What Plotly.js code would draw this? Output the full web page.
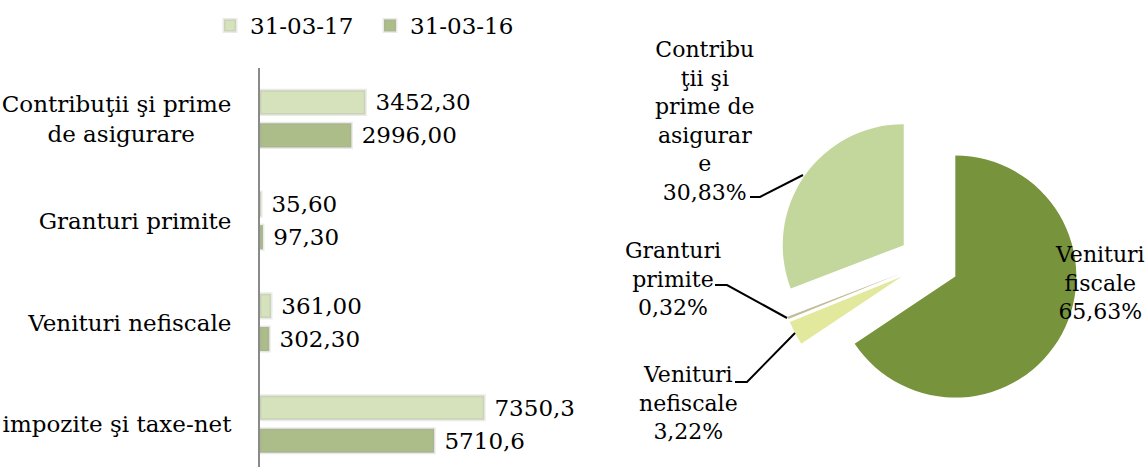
<!DOCTYPE html>
<html>
<head>
<meta charset="utf-8">
<script src="https://cdn.plot.ly/plotly-3.0.1.min.js"></script>
<style>
  html, body { margin: 0; padding: 0; background: #ffffff; }
  #chart { width: 1146px; height: 467px; }
</style>
</head>
<body>
<div id="chart"></div>
<script>
// ---- Data ----
var categories = ['Contribuţii şi prime<br>de asigurare\u00a0\u00a0\u00a0\u00a0\u00a0', 'Granturi primite', 'Venituri nefiscale', 'impozite şi taxe-net'];
var seriesNames = ['31-03-17', '31-03-16'];
var values2017 = [3452.30, 35.60, 361.00, 7350.3];
var values2016 = [2996.00, 97.30, 302.30, 5710.6];
var labels2017 = ['3452,30', '35,60', '361,00', '7350,3'];
var labels2016 = ['2996,00', '97,30', '302,30', '5710,6'];

// Pie (structure of 31-03-17), clockwise from 12 o'clock
var pieLabels = ['Venituri<br>fiscale', 'Venituri<br>nefiscale', 'Granturi<br>primite', 'Contribu<br>ţii şi<br>prime de<br>asigurar<br>e'];
var pieValues = [7350.3, 361.00, 35.60, 3452.30];

// ---- Helpers (page px -> paper) ----
var W = 1146, H = 467;
function px(x) { return x / W; }
function py(y) { return 1 - y / H; }

var FONT = 'DejaVu Serif, Liberation Serif, serif';
var colLight = '#d6e2bb';
var colDark = '#acbd8a';
var pieColors = ['#77933c', '#e2e99d', '#c4bb98', '#c3d69b'];

function nb(arr) { return arr.map(function (s) { return '\u00a0' + s; }); }

var traces = [
  {
    type: 'bar', orientation: 'h', name: seriesNames[0],
    y: categories, x: values2017, text: nb(labels2017),
    textposition: 'outside', cliponaxis: false, constraintext: 'none',
    textfont: { family: FONT, size: 23, color: '#000' },
    marker: { color: colLight, line: { color: 'rgba(160,160,160,0.22)', width: 3 } },
    hoverinfo: 'x+y'
  },
  {
    type: 'bar', orientation: 'h', name: seriesNames[1],
    y: categories, x: values2016, text: nb(labels2016),
    textposition: 'outside', cliponaxis: false, constraintext: 'none',
    textfont: { family: FONT, size: 23, color: '#000' },
    marker: { color: colDark, line: { color: 'rgba(160,160,160,0.22)', width: 3 } },
    hoverinfo: 'x+y'
  },
  {
    type: 'pie', labels: pieLabels, values: pieValues, sort: false,
    direction: 'clockwise', rotation: 0, pull: [0.25, 0.25, 0.25, 0.25],
    marker: { colors: pieColors, line: { width: 0 } },
    textinfo: 'none', showlegend: false,
    domain: { x: [px(777.4), px(1079.9)], y: [py(413.55), py(111.05)] }
  }
];

// Pie label annotations (text from data)
var total = pieValues.reduce(function (a, b) { return a + b; }, 0);
function pct(v) { return (v / total * 100).toFixed(2).replace('.', ',') + '%'; }
var labelPos = [
  { x: 1100, y: 283 },
  { x: 688, y: 403 },
  { x: 673, y: 278.5 },
  { x: 705, y: 121 }
];
var annotations = pieLabels.map(function (lab, i) {
  return {
    xref: 'paper', yref: 'paper', x: px(labelPos[i].x), y: py(labelPos[i].y),
    xanchor: 'center', yanchor: 'middle', align: 'center', showarrow: false,
    text: lab + '<br>' + pct(pieValues[i]),
    font: { family: FONT, size: 22, color: '#000' }
  };
});

function path(pts) {
  return pts.map(function (p, i) { return (i ? 'L' : 'M') + px(p[0]) + ',' + py(p[1]); }).join(' ');
}
var leaderLines = [
  [[750, 197], [760, 197], [803, 175]],
  [[715, 285], [727, 285], [787, 318]],
  [[735, 382], [747, 382], [795, 333]]
];
var shapes = leaderLines.map(function (pts) {
  return { type: 'path', xref: 'paper', yref: 'paper', path: path(pts), line: { color: '#000', width: 2 } };
});

var layout = {
  width: W, height: H,
  margin: { l: 0, r: 0, t: 0, b: 0 },
  paper_bgcolor: '#ffffff', plot_bgcolor: 'rgba(0,0,0,0)',
  font: { family: FONT, size: 23, color: '#000' },
  barmode: 'group', bargap: 0.35, bargroupgap: 0.27,
  xaxis: {
    domain: [px(260), px(600)], range: [0, 11148], visible: false, fixedrange: true
  },
  yaxis: {
    domain: [0, py(68)], type: 'category', range: [3.42, -0.5], autorange: false,
    showline: true, linecolor: '#8a8a8a', linewidth: 2, ticks: '', showgrid: false, zeroline: false,
    ticklabelstandoff: 22, automargin: false,
    tickfont: { family: FONT, size: 23, color: '#000' }
  },
  showlegend: true,
  legend: {
    orientation: 'h', x: px(210), y: py(4), xanchor: 'left', yanchor: 'top',
    entrywidth: 115,
    font: { family: FONT, size: 23, color: '#000' }, traceorder: 'normal'
  },
  annotations: annotations,
  shapes: shapes
};

Plotly.newPlot('chart', traces, layout, { displayModeBar: false, staticPlot: true });
</script>
</body>
</html>
